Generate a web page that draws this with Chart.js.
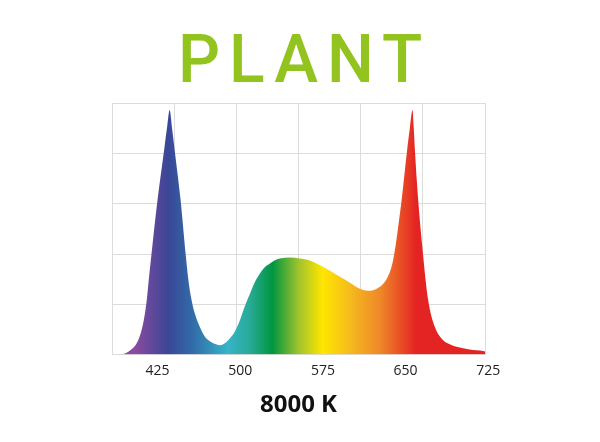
<!DOCTYPE html>
<html>
<head>
<meta charset="utf-8">
<script src="https://cdn.jsdelivr.net/npm/chart.js@4.4.1/dist/chart.umd.min.js"></script>
<style>
  html, body { margin: 0; padding: 0; background: #ffffff; }
  canvas { display: block; }
</style>
</head>
<body>
<canvas id="c" width="600" height="442"></canvas>
<script>
// ---- data ----
const chartTitle = 'PLANT';
const axisTitle = '8000 K';
const tickLabels = [425, 500, 575, 650, 725];
const wavelengths = [
  383.7, 393.9, 400, 404.6, 408, 410.5, 412.5, 414, 415.2, 417, 420.5, 425, 431, 433.8, 436.0,
  438.2, 440.5, 445.9, 450.5, 452.9, 455.9, 458.9, 463.5, 468, 474, 478, 481.5, 486, 489,
  495, 499.7, 504, 508.8, 513, 517.9, 522, 526.9, 531, 536, 545, 554, 563,
  572, 581, 590, 599.5, 608.5, 616, 623.7, 632.7, 637.3, 640.3, 643.3, 646.4, 651.4,
  653.8, 656.3, 657.4, 658.4, 661.4, 665.4, 670.5, 676.5, 684.1, 690, 696.2, 708, 720.3, 722
];
const intensity = [
  0, 0.01, 0.08, 0.17, 0.31, 0.48, 0.68, 0.88, 1.08, 1.48, 2.2, 3.08, 4.08, 4.55, 4.87,
  4.5, 4.08, 3.08, 2.0, 1.5, 1.08, 0.81, 0.54, 0.35, 0.24, 0.20, 0.18, 0.22, 0.28,
  0.45, 0.68, 0.95, 1.21, 1.43, 1.61, 1.73, 1.81, 1.87, 1.91, 1.93, 1.91, 1.87,
  1.78, 1.67, 1.55, 1.43, 1.31, 1.27, 1.31, 1.50, 1.75, 2.08, 2.55, 3.08, 4.08,
  4.5, 4.87, 4.5, 4.08, 3.08, 2.08, 1.08, 0.55, 0.28, 0.20, 0.15, 0.10, 0.07, 0.06
];
const xMin = 383.7, xMax = 722;
const yMin = 0, yMax = 5;
const gridDivisions = 6;

// ---- style ----
const spectrumStops = [
  [0.00, 'rgb(150,80,165)'],
  [0.06, 'rgb(140,75,160)'],
  [0.15, 'rgb(58,70,150)'],
  [0.22, 'rgb(50,110,170)'],
  [0.31, 'rgb(55,180,200)'],
  [0.37, 'rgb(40,170,150)'],
  [0.43, 'rgb(0,150,65)'],
  [0.50, 'rgb(160,195,45)'],
  [0.565, 'rgb(255,230,0)'],
  [0.64, 'rgb(245,185,30)'],
  [0.72, 'rgb(238,135,40)'],
  [0.815, 'rgb(228,35,35)'],
  [1.00, 'rgb(228,35,35)']
];
const gridColor = '#dcdcdc';

const points = wavelengths.map((w, i) => ({ x: w, y: intensity[i] }));

const titlePlugin = {
  id: 'bigTitle',
  afterDraw(chart) {
    const c = chart.ctx;
    c.save();
    const sp = 9;
    c.font = '500 66px Roboto, "Liberation Sans", Arial, sans-serif';
    c.fillStyle = '#92c31f';
    c.textAlign = 'left';
    c.textBaseline = 'alphabetic';
    let hasLS = false;
    if ('letterSpacing' in c) { c.letterSpacing = sp + 'px'; hasLS = true; }
    const w = c.measureText(chartTitle).width - (hasLS ? sp : 0);
    c.fillText(chartTitle, chart.width / 2 - w / 2, 82);
    c.restore();
  }
};

new Chart(document.getElementById('c'), {
  type: 'line',
  data: {
    datasets: [{
      data: points,
      xAxisID: 'x',
      yAxisID: 'y',
      borderWidth: 0,
      borderColor: 'rgba(0,0,0,0)',
      pointRadius: 0,
      cubicInterpolationMode: 'monotone',
      fill: 'origin',
      backgroundColor: (ctx) => {
        const chart = ctx.chart;
        const area = chart.chartArea;
        if (!area) return 'rgba(0,0,0,0)';
        const g = chart.ctx.createLinearGradient(area.left, 0, area.right, 0);
        spectrumStops.forEach(([p, col]) => g.addColorStop(p, col));
        return g;
      }
    }]
  },
  options: {
    responsive: false,
    animation: false,
    devicePixelRatio: 1,
    layout: { padding: { left: 112, right: 115, top: 103.5, bottom: 22 } },
    plugins: {
      legend: { display: false },
      tooltip: { enabled: false },
      title: { display: false }
    },
    scales: {
      x: {
        type: 'linear',
        position: 'bottom',
        min: xMin,
        max: xMax,
        afterBuildTicks: (axis) => { axis.ticks = tickLabels.map(v => ({ value: v })); },
        ticks: {
          autoSkip: false,
          maxRotation: 0,
          padding: 8,
          color: '#222222',
          font: { family: '"Open Sans", sans-serif', size: 14 },
          callback: (v) => String(v)
        },
        grid: { display: false, drawTicks: false },
        border: { display: true, color: gridColor },
        title: {
          display: true,
          text: axisTitle,
          color: '#111111',
          font: { family: '"Open Sans", sans-serif', size: 24, weight: 'bold' },
          padding: { top: 4, bottom: 0 }
        }
      },
      xg: {
        type: 'linear',
        position: 'top',
        min: xMin,
        max: xMax,
        afterBuildTicks: (axis) => {
          const t = [];
          for (let i = 0; i <= gridDivisions; i++) t.push({ value: xMin + i * (xMax - xMin) / gridDivisions });
          axis.ticks = t;
        },
        ticks: { display: false },
        grid: { color: gridColor, drawTicks: false, lineWidth: 1 },
        border: { display: true, color: gridColor }
      },
      y: {
        type: 'linear',
        min: yMin,
        max: yMax,
        ticks: { display: false, stepSize: 1 },
        grid: { color: gridColor, drawTicks: false, lineWidth: 1 },
        border: { display: true, color: gridColor }
      }
    }
  },
  plugins: [titlePlugin]
});
</script>
</body>
</html>
